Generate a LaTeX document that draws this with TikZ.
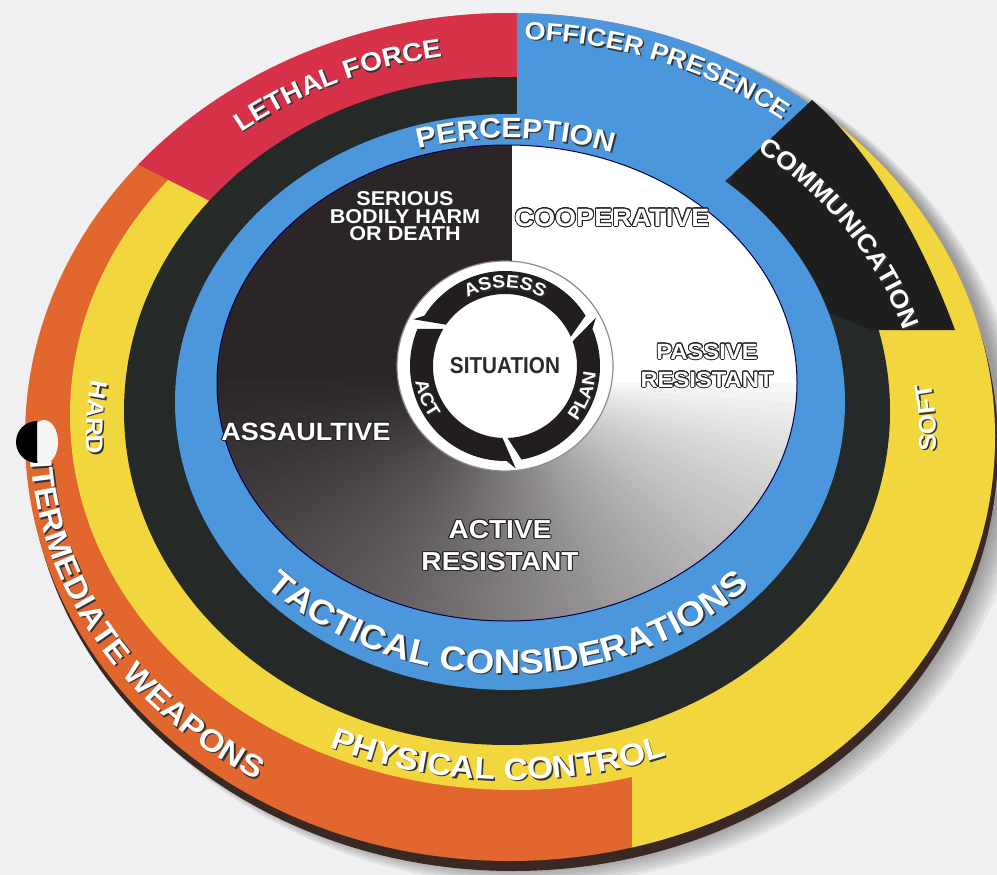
\documentclass[tikz,border=0pt]{standalone}
\usepackage{fontspec}
\usepackage[copies]{contour}
\usetikzlibrary{decorations.text}
\setmainfont{Liberation Sans}
\newfontfamily\wheelfont[FakeStretch=1.08]{Liberation Sans}
\newfontfamily\hubfont[FakeStretch=0.9]{Liberation Sans}
\definecolor{paper}{HTML}{F0F0F2}
\definecolor{rim}{HTML}{3A2922}
\definecolor{lethalred}{HTML}{D6334A}
\definecolor{weaponorange}{HTML}{E2672E}
\definecolor{controlyellow}{HTML}{F2D63E}
\definecolor{ringblack}{HTML}{252927}
\definecolor{presenceblue}{HTML}{4C96DC}
\definecolor{commblack}{HTML}{1E1E1F}
\definecolor{discdark}{HTML}{2B2527}
\definecolor{cycleblack}{HTML}{221E1F}
\definecolor{hubdark}{HTML}{2A2A2A}
\contourlength{0.9pt}
\contournumber{24}
\newcommand\outl[1]{\contour{black!85}{#1}}
\newcommand\ringtext[7]{%
	\path[shift={(#1)},shift={(1.5,1.5)},decorate,decoration={text along path,text align=center,text color=black!80,
		text={|\wheelfont\bfseries\fontsize{#6}{#6}\selectfont|#7}}]
		(#4:#2 and #3) arc[start angle=#4,end angle=#5,x radius=#2,y radius=#3];
	\path[shift={(#1)},decorate,decoration={text along path,text align=center,text color=white,
		text={|\wheelfont\bfseries\fontsize{#6}{#6}\selectfont|#7}}]
		(#4:#2 and #3) arc[start angle=#4,end angle=#5,x radius=#2,y radius=#3];
}

\begin{document}
\begin{tikzpicture}[x=1pt,y=-1pt,
		hubarrow/.style={fill=cycleblack},
		disctext/.style={align=center,inner sep=0pt,text=white},
		hubtext/.style={inner sep=0pt,text=hubdark,font=\hubfont\bfseries\fontsize{23}{23}\selectfont}
	]
	\useasboundingbox (0,0) rectangle (997,875);
	\clip (0,0) rectangle (997,875);
	\fill[paper] (0,0) rectangle (997,875);
	\foreach \i in {1,...,8}
		\fill[black,opacity=0.05] (514+2*\i,441+1.5*\i) ellipse[x radius=485+\i,y radius=424+\i];
	\fill[rim] (513,447) ellipse[x radius=485,y radius=424];
	\fill[weaponorange] (510,437) ellipse[x radius=485,y radius=424];
	\begin{scope}
		\clip (632,1000) -- (632,300) -- (700,-100) -- (1100,-100) -- (1100,1000) -- cycle;
		\fill[controlyellow] (510,437) ellipse[x radius=485,y radius=424];
	\end{scope}
	\fill[controlyellow] (515,415) ellipse[x radius=445,y radius=375];
	\begin{scope}
		\clip (517,357) -- (517,-50) -- (-50,-50) -- (-50,69) -- cycle;
		\fill[lethalred] (510,437) ellipse[x radius=485,y radius=424];
	\end{scope}
	\fill[ringblack] (507,411) ellipse[x radius=383,y radius=334];
	\begin{scope}
		\clip (517,368) -- (517,-50) -- (982,-50) -- cycle;
		\fill[presenceblue] (510,437) ellipse[x radius=485,y radius=424];
	\end{scope}
	\fill[commblack] (735,172) -- (812,100) .. controls (870,150) and (920,235) .. (955,330) -- (872,330) -- (700,260) -- cycle;
	\fill[presenceblue] (510,402) ellipse[x radius=335,y radius=288];

	\fill[discdark] (507,383) ellipse[x radius=290,y radius=238];
	\begin{scope}
		\clip (507,383) ellipse[x radius=290,y radius=238];
		\fill[white] (512,383) rectangle (820,120);
		\foreach \a in {0,2,...,178}{
			\pgfmathsetmacro\darkness{100*((\a+2)/182)^0.75}
			\fill[discdark!\darkness!white,shift={(512,383)}] (0,0) -- (\a:400) -- (\a+2.6:400) -- cycle;
		}
	\end{scope}
	\draw[blue!30!black,line width=1pt] (507,383) ellipse[x radius=290,y radius=238];

	\fill[white] (505,366) ellipse[x radius=108,y radius=105];
	\draw[black!45,line width=1.2pt] (505,366) ellipse[x radius=108,y radius=105];
	\begin{scope}[shift={(505,366)}]
		\fill[hubarrow] (-32:95) arc[start angle=-32,end angle=-148,radius=95] -- (-153:103) -- (-145:72) arc[start angle=-145,end angle=-24,radius=72] -- cycle;
		\fill[hubarrow] (-157:95) arc[start angle=-157,end angle=-271,radius=95] -- (-276:103) -- (-268:72) arc[start angle=-268,end angle=-149,radius=72] -- cycle;
		\fill[hubarrow] (-280:95) arc[start angle=-280,end angle=-383,radius=95] -- (-388:103) -- (-380:72) arc[start angle=-380,end angle=-272,radius=72] -- cycle;
	\end{scope}
	\node[hubtext] (situation) at (505,366) {SITUATION};

	\node[disctext,font=\wheelfont\bfseries\fontsize{20}{17.5}\selectfont] (harm) at (405,217) {\outl{SERIOUS}\\\outl{BODILY HARM}\\\outl{OR DEATH}};
	\node[disctext,font=\wheelfont\bfseries\fontsize{25}{25}\selectfont] (cooperative) at (612,218) {\outl{COOPERATIVE}};
	\node[disctext,font=\wheelfont\bfseries\fontsize{22}{28}\selectfont] (passive) at (707,366) {\outl{PASSIVE}\\\outl{RESISTANT}};
	\node[disctext,font=\wheelfont\bfseries\fontsize{25}{25}\selectfont] (assaultive) at (306,432) {\outl{ASSAULTIVE}};
	\node[disctext,font=\wheelfont\bfseries\fontsize{26}{32}\selectfont] (active) at (500,546) {\outl{ACTIVE}\\\outl{RESISTANT}};

	\ringtext{510,437}{440}{385}{-150}{-78}{26}{LETHAL FORCE}
	\ringtext{510,437}{452}{398}{-105}{-35}{25}{OFFICER PRESENCE}
	\ringtext{510,437}{412}{358}{-80}{13}{25}{COMMUNICATION}
	\ringtext{508,395}{315}{257}{-130}{-47}{28}{PERCEPTION}
	\ringtext{511,436}{425}{344}{-150}{-204}{24}{HARD}
	\ringtext{511,436}{425}{344}{27}{-33}{24}{SOFT}
	\ringtext{511,436}{425}{344}{130}{54}{31}{PHYSICAL CONTROL}
	\ringtext{510,436}{480}{405}{-155}{-260}{31}{INTERMEDIATE WEAPONS}
	\ringtext{508,395}{332}{279}{175}{5}{34}{TACTICAL CONSIDERATIONS}
	\ringtext{505,366}{78}{78}{-160}{-20}{18}{ASSESS}
	\ringtext{505,366}{91}{91}{60}{-18}{18}{PLAN}
	\ringtext{505,366}{91}{91}{-165}{-240}{18}{ACT}

	\fill[white!92!gray] (44,442) ellipse[x radius=14,y radius=22];
	\fill[black] (37,421) arc[start angle=-90,end angle=-270,radius=21] -- cycle;
\end{tikzpicture}
\end{document}
